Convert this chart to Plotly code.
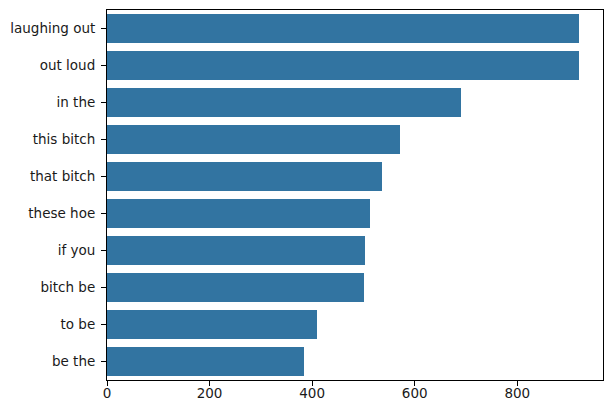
import plotly.graph_objects as go

categories = ["laughing out", "out loud", "in the", "this bitch", "that bitch",
              "these hoe", "if you", "bitch be", "to be", "be the"]
counts = [921, 920, 690, 571, 536, 512, 503, 501, 409, 384]
x_ticks = [0, 200, 400, 600, 800]

fig = go.Figure(go.Bar(
    x=counts, y=categories, orientation="h",
    marker=dict(color="#3274a1", line=dict(width=0)),
    width=0.8,
))

fig.update_layout(
    width=613, height=413,
    margin=dict(l=107, r=10, t=10, b=33, autoexpand=False),
    paper_bgcolor="white", plot_bgcolor="white",
    font=dict(family="DejaVu Sans", size=13.5, color="#1a1a1a"),
    showlegend=False,
    bargap=0,
)
fig.update_xaxes(
    range=[0, max(counts) * 1.05], tickvals=x_ticks,
    showgrid=False, zeroline=False, automargin=False,
    showline=True, linecolor="black", linewidth=1.1, mirror=True,
    ticks="outside", ticklen=5, tickwidth=1.1, tickcolor="black",
    ticklabelstandoff=-4,
)
fig.update_yaxes(
    categoryorder="array", categoryarray=categories,
    range=[len(categories) - 0.5, -0.5],
    showgrid=False, zeroline=False, automargin=False,
    showline=True, linecolor="black", linewidth=1.1, mirror=True,
    ticks="outside", ticklen=5, tickwidth=1.1, tickcolor="black",
    ticklabelstandoff=3,
)

fig.write_html(
    "out.html",
    config={"displayModeBar": False},
    post_script="document.body.style.margin='0';document.body.style.overflow='hidden';",
)
